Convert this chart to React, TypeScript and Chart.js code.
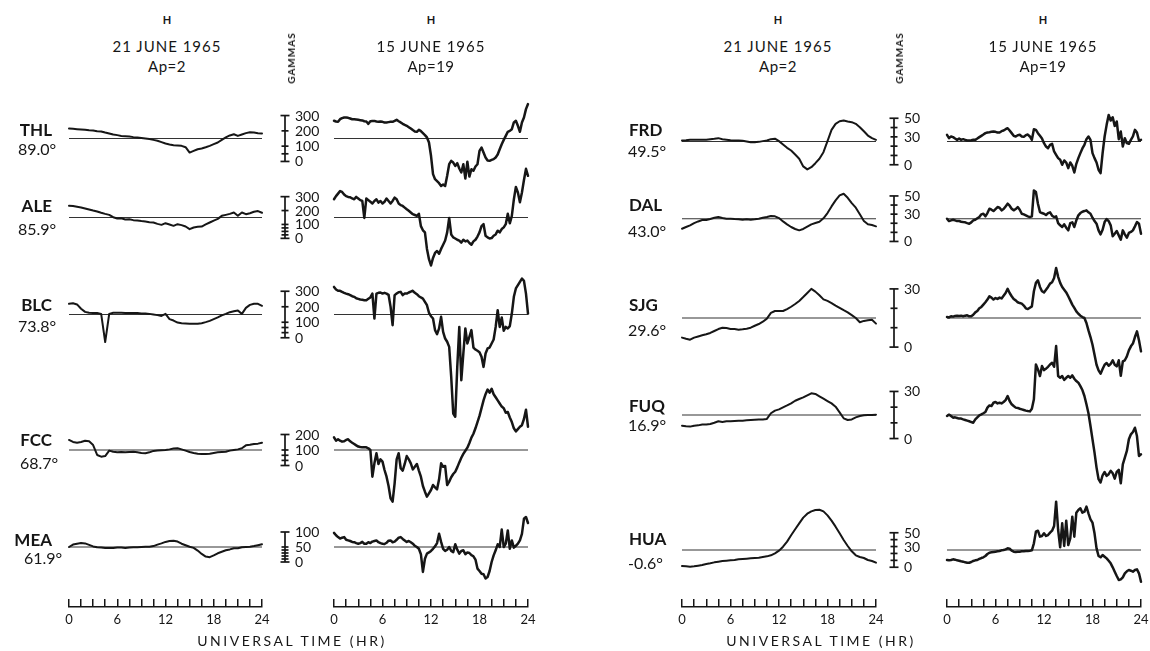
import React, { useEffect, useRef } from 'react';
import { Chart, registerables } from 'chart.js';

Chart.register(...registerables);

/* ===================== DATA (H component, gammas) ===================== */
const QUIET_STEP_HR = 0.5; // 21 June 1965 records
const STORM_STEP_HR = 0.25; // 15 June 1965 records

const highLatStations = ['THL', 'ALE', 'BLC', 'FCC', 'MEA'];
const highLatLatitudes = ['89.0°', '85.9°', '73.8°', '68.7°', '61.9°'];
const lowLatStations = ['FRD', 'DAL', 'SJG', 'FUQ', 'HUA'];
const lowLatLatitudes = ['49.5°', '43.0°', '29.6°', '16.9°', '-0.6°'];

const highLatBaselines = [150, 150, 150, 100, 50];
const lowLatBaselines = [25, 25, 15, 15, 25];

const highLatScaleTicks = [
  [300, 200, 100, 50, 0],
  [300, 200, 100, 75, 50, 25, 0],
  [300, 200, 100, 66, 33, 0],
  [200, 100, 66, 33, 0],
  [100, 50, 40, 30, 20, 10, 0],
];
const highLatScaleLabels = [[300, 200, 100, 0], [300, 200, 100, 0], [300, 200, 100, 0], [200, 100, 0], [100, 50, 0]];
const lowLatScaleTicks = [
  [50, 40, 30, 20, 10, 0],
  [50, 40, 30, 20, 10, 0],
  [30, 20, 10, 0],
  [30, 20, 10, 0],
  [50, 40, 30, 20, 10, 0],
];
const lowLatScaleLabels = [[50, 30, 0], [50, 30, 0], [30, 0], [30, 0], [50, 30, 0]];

const timeAxisTickStepHr = 1.5;
const timeAxisLabels = [0, 6, 12, 18, 24];
const timeAxisTitle = 'UNIVERSAL TIME (HR)';
const headerQuiet = ['H', '21 JUNE 1965', 'Ap=2'];
const headerStorm = ['H', '15 JUNE 1965', 'Ap=19'];
const scaleUnit = 'GAMMAS';

// ---- 21 June 1965 (quiet), every 0.5 h ----
const thlQuiet = [
  215, 213, 211, 209, 207, 204, 202, 198,
  196, 189, 183, 176, 172, 167, 165, 163,
  159, 157, 154, 150, 146, 141, 135, 126,
  117, 111, 106, 104, 102, 93, 58, 69,
  80, 85, 93, 102, 113, 124, 141, 157,
  170, 178, 167, 176, 185, 191, 189, 185,
  183,
];
const aleQuiet = [
  234, 232, 227, 222, 215, 208, 200, 193,
  184, 176, 169, 152, 143, 145, 136, 138,
  131, 128, 124, 121, 116, 114, 104, 97,
  109, 100, 90, 102, 95, 85, 66, 78,
  83, 85, 100, 114, 128, 140, 162, 169,
  176, 186, 162, 186, 174, 181, 191, 196,
  184,
];
const blcQuiet = [
  219, 223, 215, 187, 167, 161, 159, 159,
  154, -28, 154, 161, 161, 161, 159, 159,
  159, 159, 156, 156, 154, 150, 146, 141,
  154, 120, 111, 98, 94, 92, 90, 90,
  90, 94, 101, 109, 120, 131, 144, 154,
  165, 171, 176, 154, 193, 212, 219, 219,
  206,
];
const fccQuiet = [
  165, 152, 147, 152, 160, 156, 132, 68,
  57, 61, 96, 89, 85, 87, 85, 87,
  89, 85, 81, 79, 85, 94, 96, 98,
  100, 104, 109, 111, 104, 96, 87, 81,
  76, 74, 74, 76, 81, 85, 87, 89,
  96, 100, 104, 111, 130, 134, 139, 141,
  147,
];
const meaQuiet = [
  50, 58, 61, 63, 62, 57, 52, 49,
  48, 47, 47, 47, 48, 48, 47, 48,
  49, 49, 50, 51, 51, 53, 58, 62,
  67, 70, 71, 68, 61, 56, 51, 47,
  38, 27, 18, 16, 22, 29, 34, 39,
  42, 46, 46, 49, 50, 51, 53, 56,
  59,
];
const frdQuiet = [
  26, 26.4, 27, 27, 27, 27, 27, 27.5,
  28, 28.6, 27.5, 27, 26.4, 26, 26, 25.7,
  25, 24.3, 24.3, 24.6, 25.4, 26, 27.5, 28,
  25.4, 21.8, 18.2, 15.3, 11, 6.4, -1.8, -5,
  -2.6, 1.7, 6.4, 13.5, 25.4, 37.5, 44, 46.8,
  47.5, 46.5, 45.8, 44, 40.4, 36, 31.4, 28.6,
  26.8,
];
const dalQuiet = [
  14, 15.9, 17.7, 20.2, 22, 23.5, 23.5, 24.6,
  26, 26.8, 25.7, 25, 25, 24.6, 24.3, 23.9,
  24.3, 23.9, 24.3, 25, 26, 26.8, 28, 27.6,
  25.7, 22, 18.8, 15.9, 13.7, 12.2, 13.7, 16.2,
  18.8, 20.2, 21.7, 25.4, 31.2, 38.5, 45.1, 50.6,
  52.4, 48, 42.2, 37.1, 29.8, 22.4, 18.8, 18,
  16.6,
];
const sjgQuiet = [
  4.9, 4.3, 3.8, 4.9, 5.5, 6.1, 6.6, 7.3,
  8.3, 9.3, 10, 9.8, 9.3, 9.3, 9, 9.2,
  9.5, 10, 11, 11.9, 13.1, 14.7, 17.6, 18.6,
  18.6, 18.6, 19.6, 20.8, 22.2, 23.8, 25.8, 27.9,
  30, 28.6, 26.7, 24.6, 23.8, 22.7, 21.4, 20.2,
  19, 17.9, 16.5, 15, 12.8, 13.5, 13.8, 14.1,
  12.1,
];
const fuqQuiet = [
  8.2, 7.8, 7.6, 8.2, 8.4, 8.9, 8.9, 9.3,
  10.1, 11, 10.5, 11, 11, 11.2, 11.4, 11.4,
  11.6, 11.8, 12, 12.2, 12.2, 12.5, 16.1, 17.8,
  18.6, 19.9, 21.1, 22.4, 24.1, 25.2, 26.2, 27.5,
  28.8, 28.4, 26.9, 25.4, 23.9, 22.4, 20.3, 16.7,
  12.9, 11.8, 12.2, 13.5, 14.4, 14.8, 15, 15,
  15.2,
];
const huaQuiet = [
  1.8, 1.3, 0.9, 1.3, 2.3, 3.3, 4.7, 5.7,
  7.1, 8.1, 9.1, 9.5, 10, 10.5, 11.5, 12,
  12.4, 12.9, 13.4, 13.9, 14.9, 15.8, 17.3, 20.2,
  24, 29.8, 37.1, 46.3, 55, 63.6, 71.9, 77.6,
  81, 83, 83.4, 81, 75.2, 67.5, 58.8, 49.2,
  39.5, 30.8, 23.1, 17.3, 14.9, 13.4, 10.5, 9.1,
  6.6,
];

// ---- 15 June 1965 (disturbed), every 0.25 h ----
const thlStorm = [
  266, 261, 259, 276, 283, 287, 287, 285,
  281, 276, 276, 274, 272, 270, 268, 263,
  261, 246, 263, 265, 265, 261, 259, 261,
  259, 255, 255, 257, 259, 259, 265, 272,
  263, 255, 246, 239, 233, 224, 215, 205,
  196, 194, 207, 198, 185, 172, 157, 124,
  37, -83, -116, -129, -142, -160, -151, -160,
  -94, -18, 4, -7, -29, -11, -46, -72,
  -18, -112, -2, -99, -51, -61, -33, -18,
  69, 91, 58, 26, 6, 4, 10, 15,
  26, 45, 80, 113, 141, 167, 194, 200,
  211, 255, 266, 233, 194, 255, 287, 342,
  375,
];
const aleStorm = [
  281, 304, 322, 340, 334, 316, 304, 298,
  296, 287, 281, 298, 287, 275, 269, 147,
  287, 275, 263, 251, 269, 281, 257, 269,
  251, 263, 287, 269, 251, 269, 293, 281,
  251, 239, 233, 221, 209, 198, 186, 174,
  168, 162, 177, 88, 58, 43, -76, -150,
  -195, -141, -105, -91, -111, -76, -46, -16,
  43, 147, 28, 7, -1, -10, -16, -31,
  -10, -22, -16, -34, -46, -22, -10, 13,
  43, 88, 102, 19, 7, -1, 2, 19,
  28, 55, 43, 67, 79, 102, 177, 108,
  162, 280, 370, 330, 260, 330, 420, 500,
  450,
];
const blcStorm = [
  328, 311, 303, 303, 296, 290, 285, 281,
  275, 268, 264, 255, 251, 247, 245, 242,
  242, 251, 260, 285, 124, 285, 290, 292,
  285, 290, 285, 277, 199, 81, 275, 285,
  294, 296, 275, 285, 285, 292, 298, 303,
  290, 281, 268, 260, 253, 232, 210, 161,
  139, 124, 49, 23, 60, 135, 38, -5,
  -26, -59, -252, -489, -510, -188, 70, -274,
  -102, 60, -37, 6, 49, -63, -76, -84,
  -93, -123, -188, -102, -69, -63, -37, -11,
  70, 178, 70, 131, 45, 70, 60, 75,
  156, 264, 318, 339, 361, 382, 367, 285,
  156,
];
const fccStorm = [
  182, 160, 169, 160, 154, 156, 165, 169,
  156, 147, 139, 130, 122, 119, 117, 117,
  117, 111, 100, -72, 14, 79, 10, 40,
  25, -29, -72, -132, -212, -233, -115, 40,
  79, -18, -33, 10, 61, 40, 14, -25,
  -8, 10, -33, -72, -132, -169, -201, -180,
  -158, -126, -141, -154, -89, 14, -8, -3,
  -126, -104, -76, -55, -40, -12, 20, 50,
  75, 95, 115, 145, 180, 205, 240, 280,
  320, 370, 420, 460, 490, 470, 495, 460,
  440, 420, 400, 380, 370, 340, 345, 310,
  280, 240, 220, 235, 250, 260, 300, 360,
  250,
];
const meaStorm = [
  97, 89, 83, 78, 81, 83, 74, 72,
  70, 67, 66, 63, 61, 63, 67, 61,
  61, 66, 63, 68, 70, 72, 66, 63,
  61, 60, 64, 71, 72, 66, 68, 74,
  81, 83, 77, 72, 67, 70, 66, 61,
  54, 50, 44, 26, -33, 11, 28, 32,
  37, 44, 52, 63, 94, 67, 44, 37,
  41, 50, 37, 33, 59, 41, 28, 37,
  39, 26, 32, 30, 23, 19, 8, -22,
  -30, -39, -41, -55, -50, -30, 0, 22,
  39, 59, 50, 108, 50, 61, 105, 44,
  72, 48, 54, 61, 72, 94, 144, 150,
  130,
];
const frdStorm = [
  32.2, 28.6, 30.4, 29.7, 28.2, 26.8, 28.2, 26.8,
  27.5, 26.8, 26.1, 26.1, 26.4, 26.8, 26.8, 28.2,
  29.7, 31.1, 32.5, 34, 34.7, 35, 35.4, 35.7,
  35.4, 34.7, 34.7, 36.1, 36.8, 38.2, 39.3, 36.8,
  34, 31.1, 30.4, 31.8, 32.2, 30.4, 30, 31.8,
  32.5, 30.4, 26.8, 38.2, 37.5, 34, 31.1, 28.2,
  23.2, 19.6, 17.8, 21.4, 22.5, 14.3, 10.7, 7.1,
  5.3, 0, 4.6, 2.4, -3.6, 2.4, -1.1, -8.3,
  1, 7.1, 12.5, 17.5, 21.4, 27.5, 30.4, 26.8,
  12.5, 7.1, 2.4, -5.4, -9, 12.5, 30.4, 42.9,
  53.6, 47.6, 51.1, 41.8, 46.5, 27.5, 35.7, 19.6,
  28.6, 23.2, 22.5, 26.8, 30.4, 37.5, 34.7, 26.1,
  26.8,
];
const dalStorm = [
  25, 22.4, 23.2, 23.9, 23.2, 22.4, 22.4, 21.7,
  21.3, 21, 20.2, 19.5, 21, 23.2, 23.9, 25.4,
  26.8, 29.8, 30.5, 27.6, 31.2, 36, 34.9, 33.4,
  35.6, 37.8, 37.1, 34.2, 35.6, 38.5, 41.5, 39.3,
  36, 34.2, 35.6, 37.8, 34.9, 30.5, 29.8, 28.7,
  27.6, 26.8, 27.6, 56.1, 54.3, 41.5, 32.3, 31.2,
  30.5, 29, 31.2, 32, 28.3, 26.8, 27.6, 20.2,
  17.7, 15.9, 18.8, 15.1, 12.2, 20.2, 21, 15.9,
  23.2, 28.7, 31.2, 32.7, 33.4, 34.2, 32, 30.5,
  26.1, 22.4, 19.5, 12.2, 7.8, 12.9, 21.3, 24.6,
  22.4, 17.7, 5.6, 8.5, 11.5, 6.7, 2, 12.2,
  7.8, 4.1, 9.3, 10.4, 12.2, 16.6, 21.3, 19.5,
  8.5,
];
const sjgStorm = [
  15.5, 15.3, 15.9, 15.7, 16, 16.2, 16, 16.2,
  15.9, 16.2, 16.4, 15.9, 15.9, 16.7, 17.9, 18.6,
  20, 20.7, 21.9, 23.1, 24.5, 26.2, 25.5, 24.5,
  25.3, 24.8, 25.5, 25.1, 26.5, 27.9, 30, 27.9,
  26.2, 24.8, 24.1, 23.1, 22.7, 22.4, 21.4, 20,
  19.6, 20.3, 21, 28.8, 33.1, 34.4, 31, 28.8,
  28.2, 29.6, 31, 32.7, 33.4, 35.6, 40.8, 36.2,
  33.1, 31, 29.6, 28.2, 26.2, 24.1, 21.9, 20.2,
  18.4, 17.2, 16.2, 15.5, 15, 12.4, 8.6, 5.2,
  1.2, -3.9, -9.1, -12, -13.7, -11.3, -9.1, -8.2,
  -9.6, -8.6, -6.8, -9.1, -9.9, -6.8, -14.8, -7.4,
  -6.8, -4.8, -1.7, 0.4, 1.8, 5.2, 8.1, 3.5,
  -2.2,
];
const fuqStorm = [
  14.4, 15.2, 14.4, 13.3, 13.5, 13.1, 12.7, 12.7,
  12.2, 11.8, 11.4, 11, 10.5, 10.1, 12.2, 13.5,
  14.8, 15.4, 16.1, 16.9, 19.7, 21.1, 20.7, 22.8,
  23.3, 22.4, 22.8, 22.4, 23.3, 24.5, 27.1, 23.9,
  21.8, 20.7, 19.7, 19.5, 19, 18.6, 18.2, 17.8,
  17.5, 17.3, 19, 25, 47.2, 44, 39.8, 46.2,
  43.6, 44.5, 45.7, 47.2, 48.3, 45.7, 58.9, 39.8,
  38.7, 39.8, 37.3, 38.7, 39.8, 38.7, 40.2, 38.1,
  36.6, 35.6, 33.4, 30.9, 27.1, 21.8, 16.1, 8,
  -0.5, -9, -18.5, -25.9, -28, -23.4, -21.3, -23.8,
  -22.7, -20.6, -22.1, -25.5, -21.3, -20, -28.5, -16.4,
  -12.1, -7.9, -0.5, 2.7, 4.2, 6.9, 1.6, -11.1,
  -10,
];
const huaStorm = [
  10.5, 10, 10.5, 11.5, 11, 10, 9.5, 8.6,
  8.1, 7.1, 6.6, 6.6, 7.6, 9.1, 10, 10.5,
  12, 13.4, 14.4, 16.3, 19.2, 21.1, 21.6, 22.1,
  22.6, 23.1, 23.6, 24.5, 25, 26, 27.4, 26.9,
  24, 22.6, 22.1, 22.6, 22.6, 23.1, 23.1, 23.6,
  23.6, 24, 24.5, 34.7, 51.6, 53, 44.3, 45.3,
  49.2, 45.3, 46.7, 50.1, 53, 59.8, 95, 54,
  28.9, 63.6, 30.8, 67.5, 32.2, 41.9, 73.3, 44.3,
  79.1, 83, 85.4, 79.1, 80.5, 87.8, 78.1, 69.4,
  64.6, 49.2, 27.4, 16.3, 14.4, 17.8, 15.3, 12.9,
  9.5, 5.7, -0.1, -6.4, -12.7, -18.5, -17.5, -14.6,
  -8.8, -5.9, -4, -5, -6.4, -4, -3, -8.8,
  -20.9,
];

const highQuietSeries = [thlQuiet, aleQuiet, blcQuiet, fccQuiet, meaQuiet];
const highStormSeries = [thlStorm, aleStorm, blcStorm, fccStorm, meaStorm];
const lowQuietSeries = [frdQuiet, dalQuiet, sjgQuiet, fuqQuiet, huaQuiet];
const lowStormSeries = [frdStorm, dalStorm, sjgStorm, fuqStorm, huaStorm];

/* ===================== LAYOUT (pixels) ===================== */
const PLOT_TOP = 80;
const PLOT_BOTTOM = 612;
const COL_Q1 = { x0: 69, x24: 262 };
const COL_S1 = { x0: 334, x24: 528 };
const COL_Q2 = { x0: 682, x24: 876 };
const COL_S2 = { x0: 947, x24: 1141 };
const HIGH_ROW_Y = [138.5, 217.5, 314.5, 450, 547];
const HIGH_ROW_PX_PER_UNIT = [0.153, 0.139, 0.155, 0.155, 0.3];
const LOW_ROW_Y = [141.5, 218.7, 318, 415, 550];
const LOW_ROW_PX_PER_UNIT = [0.93, 0.91, 1.94, 1.57, 0.69];
const HIGH_NAME_Y = [129, 205, 303.5, 439, 539];
const HIGH_LAT_Y = [148.5, 228.5, 326, 462.5, 558];
const HIGH_LAT_X = [18, 18, 18, 20, 24];
const LOW_NAME_Y = [128.5, 203.5, 304, 405, 538];
const LOW_LAT_Y = [151, 231, 330, 425, 563];
const AXIS_LINE_Y = 607;
const INK = '#161616';
const FONT = 'Lato, "Noto Sans", sans-serif';

type Trace = {
  values: number[];
  step: number;
  base: number;
  rowY: number;
  ppu: number;
  ticks: number[];
  labels: number[];
};

function TraceColumn({ x0, x24, traces, lineWidth, rulerOffset }: { x0: number; x24: number; traces: Trace[]; lineWidth: number; rulerOffset?: number }) {
  const ref = useRef<HTMLCanvasElement | null>(null);
  const padL = 64;
  const padR = 12;
  const width = padL + (x24 - x0) + padR;
  const height = PLOT_BOTTOM - PLOT_TOP;
  useEffect(() => {
    const canvas = ref.current;
    if (!canvas) return;
    const scales: any = { x: { type: 'linear', min: 0, max: 24, display: false } };
    const datasets: any[] = [];
    traces.forEach((t, i) => {
      const id = `y${i}`;
      scales[id] = {
        type: 'linear',
        display: false,
        min: t.base - (PLOT_BOTTOM - t.rowY) / t.ppu,
        max: t.base + (t.rowY - PLOT_TOP) / t.ppu,
      };
      datasets.push({
        data: [{ x: 0, y: t.base }, { x: 24, y: t.base }],
        xAxisID: 'x',
        yAxisID: id,
        borderColor: '#333333',
        borderWidth: 1.1,
        pointRadius: 0,
        clip: false,
        order: 2,
      });
      datasets.push({
        data: t.values.map((v, k) => ({ x: k * t.step, y: v })),
        xAxisID: 'x',
        yAxisID: id,
        borderColor: INK,
        borderWidth: lineWidth,
        pointRadius: 0,
        tension: 0,
        clip: false,
        borderJoinStyle: 'round',
        borderCapStyle: 'round',
        order: 1,
      });
    });
    const rulerPlugin = {
      id: 'gammaRuler',
      afterDatasetsDraw(chart: any) {
        if (rulerOffset === undefined) return;
        const ctx = chart.ctx;
        const x = chart.chartArea.left - rulerOffset;
        ctx.save();
        ctx.strokeStyle = INK;
        ctx.fillStyle = INK;
        ctx.lineWidth = 1.7;
        ctx.font = `14px ${FONT}`;
        ctx.textBaseline = 'middle';
        ctx.textAlign = 'left';
        traces.forEach((t, i) => {
          const sc = chart.scales[`y${i}`];
          const top = Math.max(...t.ticks);
          ctx.beginPath();
          ctx.moveTo(x, sc.getPixelForValue(top));
          ctx.lineTo(x, sc.getPixelForValue(0));
          ctx.stroke();
          t.ticks.forEach((v) => {
            const y = sc.getPixelForValue(v);
            const hw = v === 0 || v === top ? 4.5 : 3.5;
            ctx.beginPath();
            ctx.moveTo(x - hw, y);
            ctx.lineTo(x + hw, y);
            ctx.stroke();
          });
          t.labels.forEach((v) => {
            ctx.fillText(String(v), x + 10, sc.getPixelForValue(v) + 0.5);
          });
        });
        ctx.restore();
      },
    };
    const chart = new Chart(canvas, {
      type: 'line',
      data: { datasets },
      options: {
        animation: false,
        responsive: false,
        devicePixelRatio: 1,
        events: [],
        layout: { padding: { left: padL, right: padR, top: 0, bottom: 0 } },
        plugins: { legend: { display: false }, tooltip: { enabled: false } },
        scales,
      },
      plugins: [rulerPlugin],
    } as any);
    return () => chart.destroy();
  }, []);
  return (
    <canvas
      ref={ref}
      width={width}
      height={height}
      style={{ position: 'absolute', left: x0 - padL, top: PLOT_TOP, width, height }}
    />
  );
}

function TimeAxis({ x0, x24 }: { x0: number; x24: number }) {
  const ref = useRef<HTMLCanvasElement | null>(null);
  const pad = 20;
  const width = x24 - x0 + 2 * pad;
  const top = AXIS_LINE_Y - 10;
  const height = 38;
  useEffect(() => {
    const canvas = ref.current;
    if (!canvas) return;
    const chart = new Chart(canvas, {
      type: 'line',
      data: { datasets: [] },
      options: {
        animation: false,
        responsive: false,
        devicePixelRatio: 1,
        events: [],
        layout: { padding: { left: pad, right: pad, top: 2, bottom: 0 } },
        plugins: { legend: { display: false }, tooltip: { enabled: false } },
        scales: {
          x: {
            type: 'linear',
            position: 'bottom',
            min: 0,
            max: 24,
            afterFit: (s: any) => {
              s.height = height - 10;
            },
            ticks: {
              stepSize: timeAxisTickStepHr,
              autoSkip: false,
              maxRotation: 0,
              padding: 5,
              color: INK,
              font: { family: FONT, size: 13 },
              callback: (v: any) => (timeAxisLabels.some((h) => Math.abs(h - Number(v)) < 1e-6) ? String(Math.round(Number(v))) : ''),
            },
            grid: { drawOnChartArea: true, drawTicks: false, color: INK, lineWidth: 1.5 },
            border: { display: true, color: INK, width: 1.5 },
          },
          y: { type: 'linear', display: false, min: 0, max: 1 },
        },
      },
    } as any);
    return () => chart.destroy();
  }, []);
  return (
    <canvas ref={ref} width={width} height={height} style={{ position: 'absolute', left: x0 - pad, top, width, height }} />
  );
}

function Label({ text, x, y, size, weight = 400, align = 'left', spacing = 0 }: { text: string; x: number; y: number; size: number; weight?: number; align?: 'left' | 'center' | 'right'; spacing?: number }) {
  const tx = align === 'left' ? '0' : align === 'center' ? '-50%' : '-100%';
  return (
    <div
      style={{
        position: 'absolute',
        left: x,
        top: y,
        transform: `translate(${tx}, -50%)`,
        fontFamily: FONT,
        fontSize: size,
        fontWeight: weight,
        letterSpacing: spacing,
        lineHeight: 1,
        whiteSpace: 'nowrap',
        color: INK,
      }}
    >
      {text}
    </div>
  );
}

function buildTraces(series: number[][], step: number, bases: number[], rowY: number[], ppu: number[], ticks: number[][], labels: number[][]): Trace[] {
  return series.map((values, i) => ({ values, step, base: bases[i], rowY: rowY[i], ppu: ppu[i], ticks: ticks[i], labels: labels[i] }));
}

export default function App() {
  const hq = buildTraces(highQuietSeries, QUIET_STEP_HR, highLatBaselines, HIGH_ROW_Y, HIGH_ROW_PX_PER_UNIT, highLatScaleTicks, highLatScaleLabels);
  const hs = buildTraces(highStormSeries, STORM_STEP_HR, highLatBaselines, HIGH_ROW_Y, HIGH_ROW_PX_PER_UNIT, highLatScaleTicks, highLatScaleLabels);
  const lq = buildTraces(lowQuietSeries, QUIET_STEP_HR, lowLatBaselines, LOW_ROW_Y, LOW_ROW_PX_PER_UNIT, lowLatScaleTicks, lowLatScaleLabels);
  const ls = buildTraces(lowStormSeries, STORM_STEP_HR, lowLatBaselines, LOW_ROW_Y, LOW_ROW_PX_PER_UNIT, lowLatScaleTicks, lowLatScaleLabels);

  const headerCols = [
    { x: 167, h: headerQuiet },
    { x: 431, h: headerStorm },
    { x: 778, h: headerQuiet },
    { x: 1043, h: headerStorm },
  ];

  return (
    <div style={{ position: 'absolute', left: 0, top: 0, width: 1150, height: 651, overflow: 'hidden', background: '#fff' }}>
      <TraceColumn x0={COL_Q1.x0} x24={COL_Q1.x24} traces={hq} lineWidth={2} />
      <TraceColumn x0={COL_S1.x0} x24={COL_S1.x24} traces={hs} lineWidth={2.5} rulerOffset={49} />
      <TraceColumn x0={COL_Q2.x0} x24={COL_Q2.x24} traces={lq} lineWidth={2} />
      <TraceColumn x0={COL_S2.x0} x24={COL_S2.x24} traces={ls} lineWidth={2.5} rulerOffset={53} />

      <TimeAxis x0={COL_Q1.x0} x24={COL_Q1.x24} />
      <TimeAxis x0={COL_S1.x0} x24={COL_S1.x24} />
      <TimeAxis x0={COL_Q2.x0} x24={COL_Q2.x24} />
      <TimeAxis x0={COL_S2.x0} x24={COL_S2.x24} />

      {headerCols.map((c, i) => (
        <React.Fragment key={`hdr${i}`}>
          <Label text={c.h[0]} x={c.x} y={18.5} size={11} weight={700} align="center" />
          <Label text={c.h[1]} x={c.x} y={45.5} size={15} align="center" spacing={1} />
          <Label text={c.h[2]} x={c.x} y={65.5} size={15} align="center" spacing={0.5} />
        </React.Fragment>
      ))}

      {[291, 899].map((x, i) => (
        <div
          key={`gam${i}`}
          style={{
            position: 'absolute',
            left: x,
            top: 58,
            transform: 'translate(-50%, -50%) rotate(-90deg)',
            fontFamily: FONT,
            fontSize: 10,
            fontWeight: 700,
            letterSpacing: 1,
            lineHeight: 1,
            color: INK,
            whiteSpace: 'nowrap',
          }}
        >
          {scaleUnit}
        </div>
      ))}

      {highLatStations.map((s, i) => (
        <React.Fragment key={`hl${i}`}>
          <Label text={s} x={52} y={HIGH_NAME_Y[i]} size={17} weight={700} align="right" />
          <Label text={highLatLatitudes[i]} x={HIGH_LAT_X[i]} y={HIGH_LAT_Y[i]} size={16} />
        </React.Fragment>
      ))}
      {lowLatStations.map((s, i) => (
        <React.Fragment key={`ll${i}`}>
          <Label text={s} x={629} y={LOW_NAME_Y[i]} size={17} weight={700} />
          <Label text={lowLatLatitudes[i]} x={628} y={LOW_LAT_Y[i]} size={16} />
        </React.Fragment>
      ))}

      <Label text={timeAxisTitle} x={292} y={641} size={14} align="center" spacing={2.5} />
      <Label text={timeAxisTitle} x={821} y={641} size={14} align="center" spacing={2.5} />
    </div>
  );
}
